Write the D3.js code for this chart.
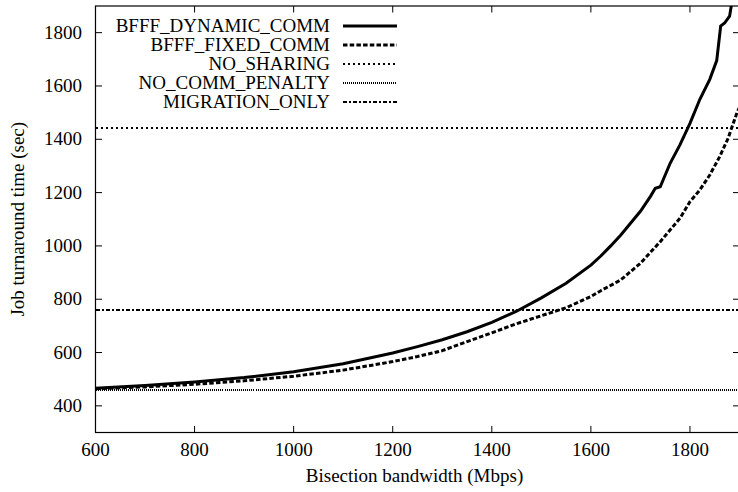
<!DOCTYPE html>
<html><head><meta charset="utf-8">
<script src="https://cdn.jsdelivr.net/npm/d3@7"></script>
<style>
html,body{margin:0;padding:0;background:#fff;}
</style></head>
<body><svg id="chart" width="738" height="492"></svg>
<script>
// ---- data ----
const xTicks = [600, 800, 1000, 1200, 1400, 1600, 1800];
const yTicks = [400, 600, 800, 1000, 1200, 1400, 1600, 1800];

const dynBandwidth = [600,700,800,900,1000,1100,1200,1250,1300,1350,1400,1450,1500,1550,1600,1620,1640,1660,1680,1700,1720,1730,1740,1760,1780,1800,1820,1840,1854,1862,1870,1880,1886];
const dynTime      = [466,476,489,506,528,558,598,622,648,678,713,755,805,860,928,962,1000,1040,1085,1130,1185,1216,1222,1310,1380,1460,1550,1625,1695,1825,1836,1862,1930];

const fixBandwidth = [600,700,800,900,1000,1100,1200,1250,1300,1350,1400,1450,1500,1550,1600,1620,1660,1700,1740,1780,1800,1820,1840,1860,1877,1885,1895,1900];
const fixTime      = [464,471,481,494,511,534,566,585,607,641,674,708,738,768,810,832,872,935,1016,1104,1166,1210,1266,1335,1404,1447,1500,1520];

const noSharing = 1443;
const noCommPenalty = 461;
const migrationOnly = 759;

const seriesNames = ["BFFF_DYNAMIC_COMM","BFFF_FIXED_COMM","NO_SHARING","NO_COMM_PENALTY","MIGRATION_ONLY"];
const seriesStyles = [
  {w:3,   dash:null},
  {w:3,   dash:"4.5,2.2"},
  {w:2,   dash:"2,3"},
  {w:2,   dash:"1,1"},
  {w:2,   dash:"4,2,2,2"}
];

// ---- layout ----
const FONT = "'Liberation Serif', 'Times New Roman', Times, serif";
const svg = d3.select("#chart").attr("font-family", FONT);
const L = 95.5, R = 739.5, T = 6, B = 432.5;
const x = d3.scaleLinear().domain([600,1900]).range([L,R]);
const y = d3.scaleLinear().domain([300,1900]).range([B,T]);
const FS = 19;

svg.append("defs").append("clipPath").attr("id","clip")
  .append("rect").attr("x",L).attr("y",T).attr("width",R-L).attr("height",B-T);

// frame
svg.append("rect").attr("x",L).attr("y",T).attr("width",R-L).attr("height",B-T)
  .attr("fill","none").attr("stroke","#000").attr("stroke-width",1.2);

// ticks
const tl = 6.5;
const g = svg.append("g").attr("stroke","#000").attr("stroke-width",1);
xTicks.forEach(v=>{
  g.append("line").attr("x1",x(v)).attr("x2",x(v)).attr("y1",B).attr("y2",B-tl);
  g.append("line").attr("x1",x(v)).attr("x2",x(v)).attr("y1",T).attr("y2",T+tl);
});
yTicks.forEach(v=>{
  g.append("line").attr("x1",L).attr("x2",L+tl).attr("y1",y(v)).attr("y2",y(v));
  g.append("line").attr("x1",R).attr("x2",R-tl).attr("y1",y(v)).attr("y2",y(v));
});
function txt(xx, yy, s, anchor){
  return svg.append("text").attr("x",xx).attr("y",yy).attr("text-anchor",anchor)
    .attr("font-size",FS).attr("font-family",FONT).attr("fill","#000").text(s);
}
xTicks.forEach(v=> txt(x(v), B+23, v, "middle"));
yTicks.forEach(v=> txt(L-13.5, y(v)+6, v, "end"));

// axis titles
txt((L+R)/2-3, 482, "Bisection bandwidth (Mbps)", "middle");
txt(0, 0, "Job turnaround time (sec)", "middle")
  .attr("transform",`translate(24,${(T+B)/2}) rotate(-90)`);

// series
const plot = svg.append("g").attr("clip-path","url(#clip)");
const line = d3.line().x(d=>x(d[0])).y(d=>y(d[1]));
function draw(data, st, crisp){
  const p = plot.append("path").attr("d",line(data)).attr("fill","none")
    .attr("stroke","#000").attr("stroke-width",st.w).attr("stroke-linejoin","miter");
  if(st.dash) p.attr("stroke-dasharray",st.dash);
  if(crisp) p.attr("shape-rendering","crispEdges");
}
draw(dynBandwidth.map((b,i)=>[b,dynTime[i]]), seriesStyles[0]);
draw(fixBandwidth.map((b,i)=>[b,fixTime[i]]), seriesStyles[1]);
draw([[600,noSharing],[1900,noSharing]], seriesStyles[2], true);
draw([[600,noCommPenalty],[1900,noCommPenalty]], seriesStyles[3], true);
draw([[600,migrationOnly],[1900,migrationOnly]], seriesStyles[4], true);

// legend
const lg = svg.append("g");
seriesNames.forEach((n,i)=>{
  const yy = 26 + i*19;
  txt(330, yy+6, n, "end");
  const l = lg.append("line").attr("x1",343).attr("x2",397).attr("y1",yy).attr("y2",yy)
    .attr("stroke","#000").attr("stroke-width",seriesStyles[i].w);
  if(seriesStyles[i].dash) l.attr("stroke-dasharray",seriesStyles[i].dash);
  if(i>=2) l.attr("shape-rendering","crispEdges");
});
</script></body></html>
